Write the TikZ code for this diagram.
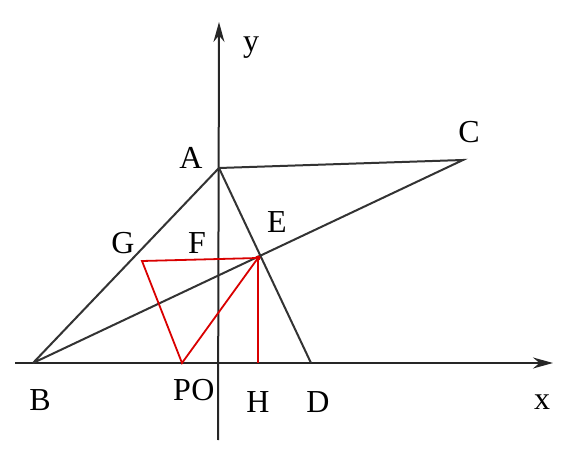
\documentclass[tikz,border=0pt]{standalone}
\usepackage{fontspec}
\setmainfont{Liberation Serif}
\usetikzlibrary{arrows.meta}
\begin{document}
\begin{tikzpicture}
[x=1pt,y=-1pt,
  linedecorate/.style={line width=2pt,black!80},
  reddecorate/.style={line width=1.8pt,red!85!black},
  axisdecorate/.style={line width=2pt,black!85,-{Stealth[length=20pt,width=11pt]}},
  labeldecorate/.style={font=\fontsize{32}{36}\selectfont,inner sep=0pt}]
\useasboundingbox (0,0) rectangle (563,468);
%% points
\foreach \nodename/\x/\y in {B/33/363, A/219/168, C/463/160, D/311/363,
  E/258/258, H/258/363, P/182/363, O/218/363, G/142/261, F/218/259} {
  \coordinate (\nodename) at (\x,\y);
}
\coordinate (xs) at (15,363);
\coordinate (xe) at (553,363);
\coordinate (ys) at (218,440);
\coordinate (ye) at (219,22);
%% axes
\draw[axisdecorate] (xs) -- (xe);
\draw[axisdecorate] (ys) -- (ye);
%% black lines
\draw[linedecorate] (B) -- (A) -- (C) -- (B);
\draw[linedecorate] (A) -- (D);
%% red lines
\draw[reddecorate] (G) -- (E) -- (P) -- cycle;
\draw[reddecorate] (E) -- (H);
\fill[red!85!black] (E) circle (2.5pt);
%% labels
\foreach \labelname/\x/\y in {y/251/48, x/542/402} {
  \node[labeldecorate] at (\x,\y) {\labelname};
}
\foreach \labelname/\x/\y in {A/191/158, C/469/132, G/123/243, F/197/243,
  E/277/222, B/40/400, P/182/390, O/203/390, H/258/402, D/318/402} {
  \node[labeldecorate] (l\labelname) at (\x,\y) {\labelname};
}
\end{tikzpicture}
\end{document}
